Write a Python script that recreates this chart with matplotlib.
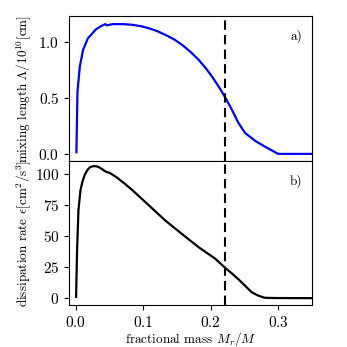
import matplotlib
matplotlib.use("Agg")
import matplotlib.pyplot as plt

plt.rcParams['font.family'] = 'serif'
plt.rcParams['font.serif'] = ['cmr10', 'DejaVu Serif']
plt.rcParams['mathtext.fontset'] = 'cm'
plt.rcParams['axes.formatter.use_mathtext'] = True
plt.rcParams['font.size'] = 9.5

# mixing length (top panel)
mass_top = [0.001, 0.0025, 0.006, 0.011, 0.018, 0.030, 0.038, 0.044, 0.046, 0.055,
            0.070, 0.084, 0.097, 0.109, 0.121, 0.133, 0.146, 0.158, 0.170, 0.182,
            0.192, 0.202, 0.212, 0.221, 0.231, 0.241, 0.251, 0.266, 0.280, 0.300,
            0.350]
lam = [0.02, 0.55, 0.78, 0.93, 1.03, 1.11, 1.14, 1.156, 1.145, 1.156,
       1.156, 1.15, 1.137, 1.118, 1.093, 1.06, 1.02, 0.97, 0.91, 0.84,
       0.77, 0.69, 0.60, 0.51, 0.40, 0.28, 0.19, 0.12, 0.07, 0.005,
       0.005]

# dissipation rate (bottom panel)
mass_bot = [0.0005, 0.002, 0.004, 0.007, 0.010, 0.013, 0.017, 0.021, 0.026, 0.031,
            0.035, 0.040, 0.043, 0.046, 0.050, 0.060, 0.072, 0.084, 0.109, 0.133,
            0.158, 0.182, 0.207, 0.221, 0.231, 0.241, 0.251, 0.261, 0.271, 0.280,
            0.295, 0.350]
eps = [1.3, 39, 71, 87, 94, 99, 103, 105.5, 106.4, 106.2,
       105.4, 103.6, 102.4, 101.6, 101.0, 97.6, 92.5, 87, 74.5, 62.5,
       51.5, 41.2, 31.8, 24.7, 20.2, 15.4, 10.1, 4.8, 2.1, 0.5,
       0.3, 0.2]

boundary = 0.221

fig = plt.figure(figsize=(3.47, 3.47), dpi=100)
ax1 = fig.add_axes([69/347, 1-161/347, 243/347, 145/347])
ax2 = fig.add_axes([69/347, 1-305/347, 243/347, 144/347], sharex=ax1)

ax1.plot(mass_top, lam, color='blue', lw=1.6)
ax2.plot(mass_bot, eps, color='black', lw=1.6)
for ax in (ax1, ax2):
    ax.axvline(boundary, color='black', ls=(0, (4.5, 2.5)), lw=1.5)
    ax.tick_params(labelsize=11)
ax1.set_xlim(-0.01, 0.35)
ax1.set_yticks([0.0, 0.5, 1.0])
ax1.set_ylim(-0.058, 1.228)
ax2.set_yticks([0, 25, 50, 75, 100])
ax2.set_ylim(-5.3, 110.5)
ax2.set_xticks([0.0, 0.1, 0.2, 0.3])
ax1.tick_params(labelbottom=False)

ax1.set_ylabel(r'mixing length $\Lambda/10^{10}$[cm]')
ax2.set_ylabel(r'dissipation rate $\epsilon$[cm$^2$/s$^3$]')
ax2.set_xlabel(r'fractional mass $M_r/M$', labelpad=0.5)
ax1.yaxis.set_label_coords(-0.148, 0.5)
ax2.yaxis.set_label_coords(-0.148, 0.5)

ax1.text(0.96, 0.86, 'a)', transform=ax1.transAxes, ha='right', va='center')
ax2.text(0.96, 0.86, 'b)', transform=ax2.transAxes, ha='right', va='center')

fig.savefig('out.png', dpi=100)
